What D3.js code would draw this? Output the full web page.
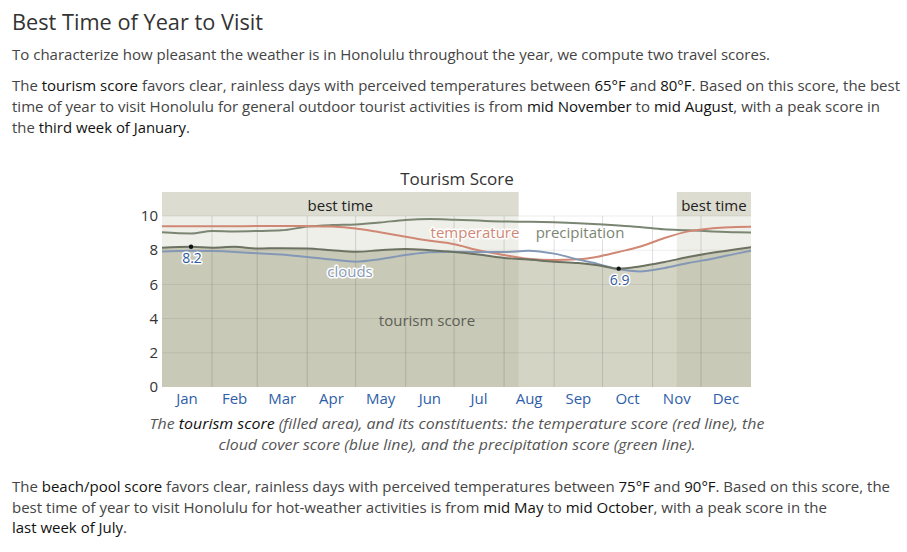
<!DOCTYPE html>
<html><head><meta charset="utf-8">
<script src="https://cdn.jsdelivr.net/npm/d3@7"></script>
<style>
body{margin:0;background:#fff;}
svg text{font-family:"Open Sans",sans-serif;}
</style></head>
<body><svg id="c" width="907" height="552"></svg>
<script>
// ---------- data ----------
const months = ["Jan","Feb","Mar","Apr","May","Jun","Jul","Aug","Sep","Oct","Nov","Dec"];
const monthStarts = [0,31,59,90,120,151,181,212,243,273,304,334,365];
const days =        [0,   18,  31,  45,  59,  74,  90,  105, 120, 135, 151, 166, 181, 196, 212, 227, 243, 258, 270, 283, 296, 311, 326, 341, 356, 365];
const tourism =     [8.15,8.2, 8.15,8.2, 8.1, 8.12,8.1, 8.0, 7.91,8.0, 8.07,8.0, 7.9, 7.75,7.55,7.45,7.33,7.25,7.12,6.92,7.05,7.3, 7.6, 7.85,8.05,8.17];
const temperature = [9.4, 9.4, 9.4, 9.4, 9.41,9.42,9.41,9.38,9.27,9.05,8.79,8.55,8.35,8.0, 7.72,7.5, 7.43,7.47,7.62,7.9, 8.2, 8.7, 9.1, 9.28,9.36,9.37];
const clouds =      [7.92,7.97,7.95,7.9, 7.82,7.75,7.6, 7.45,7.33,7.47,7.72,7.88,7.91,7.9, 7.89,7.97,7.8, 7.45,7.2, 6.88,6.76,6.95,7.25,7.5, 7.8, 7.97];
const precipitation=[9.05,8.98,9.12,9.1, 9.12,9.16,9.38,9.47,9.51,9.62,9.77,9.82,9.78,9.73,9.68,9.66,9.63,9.58,9.52,9.45,9.36,9.22,9.17,9.1, 9.05,9.04];
const bestTime = [[0,221],[319,365]];
const yTicks = [0,2,4,6,8,10];
const peak = {day:18, value:8.2, label:"8.2"};
const low = {day:283, value:6.92, label:"6.9"};

// ---------- layout ----------
const svg = d3.select("#c");
const x = d3.scaleLinear().domain([0,365]).range([162,751]);
const y = d3.scaleLinear().domain([0,10]).range([387,216]);
const yTop = 192;

// page text
function line(t, xx, yy, parts, opts={}) {
  const el = svg.append("text").attr("x", xx).attr("y", yy)
    .attr("font-size", opts.size||15).attr("fill", "#444");
  if (opts.anchor) el.attr("text-anchor", opts.anchor);
  if (opts.italic) el.attr("font-style","italic");
  if (opts.len) el.attr("textLength", opts.len).attr("lengthAdjust","spacingAndGlyphs");
  parts.forEach(p => {
    if (typeof p === "string") el.append("tspan").text(p);
    else el.append("tspan").attr("fill", p.c||"#111").text(p.t);
  });
  return el;
}
line(0, 12, 30, ["Best Time of Year to Visit"], {size:21, len:251}).attr("fill","#333");
line(0, 12, 60, ["To characterize how pleasant the weather is in Honolulu throughout the year, we compute two travel scores."], {len:758});
line(0, 12, 91, ["The ", {t:"tourism score"}, " favors clear, rainless days with perceived temperatures between ", {t:"65°F"}, " and ", {t:"80°F"}, ". Based on this score, the best"], {len:888});
line(0, 12, 112, ["time of year to visit Honolulu for general outdoor tourist activities is from ", {t:"mid November"}, " to ", {t:"mid August"}, ", with a peak score in"], {len:868});
line(0, 12, 133, ["the ", {t:"third week of January"}, "."], {len:178});
line(0, 12, 492, ["The ", {t:"beach/pool score"}, " favors clear, rainless days with perceived temperatures between ", {t:"75°F"}, " and ", {t:"90°F"}, ". Based on this score, the"], {len:878});
line(0, 12, 513, ["best time of year to visit Honolulu for hot-weather activities is from ", {t:"mid May"}, " to ", {t:"mid October"}, ", with a peak score in the"], {len:815});
line(0, 12, 533, [{t:"last week of July"}, "."], {len:115});

// chart title
svg.append("text").attr("x",457).attr("y",185).attr("text-anchor","middle")
  .attr("font-size",17).attr("fill","#333").text("Tourism Score");

// best time backgrounds
bestTime.forEach(b => {
  svg.append("rect").attr("x", x(b[0])).attr("y", yTop).attr("width", x(b[1])-x(b[0]))
    .attr("height", y(10)-yTop).attr("fill","#dcdcd0");
  svg.append("rect").attr("x", x(b[0])).attr("y", y(10)).attr("width", x(b[1])-x(b[0]))
    .attr("height", y(0)-y(10)).attr("fill","#efefe9");
});

const pts = days.map((d,i)=>({d, t:tourism[i], te:temperature[i], c:clouds[i], p:precipitation[i]}));
const curve = d3.curveMonotoneX;

// area fill (non-best and best clip)
const area = d3.area().x(d=>x(d.d)).y0(y(0)).y1(d=>y(d.t)).curve(curve);
svg.append("path").datum(pts).attr("d", area).attr("fill","#d4d4c5");
const defs = svg.append("defs");
const cp = defs.append("clipPath").attr("id","bestclip");
bestTime.forEach(b => cp.append("rect").attr("x",x(b[0])).attr("y",yTop).attr("width",x(b[1])-x(b[0])).attr("height",y(0)-yTop));
svg.append("path").datum(pts).attr("d", area).attr("fill","#c9c9b8").attr("clip-path","url(#bestclip)");

// grid
const g = svg.append("g");
g.selectAll(".hg").data(yTicks.filter(v=>v>0)).join("line")
  .attr("x1",x(0)).attr("x2",x(365)).attr("y1",d=>y(d)).attr("y2",d=>y(d))
  .attr("stroke","rgba(0,0,0,0.07)");
g.selectAll(".vg").data(monthStarts.slice(1,12)).join("line")
  .attr("x1",d=>x(d)).attr("x2",d=>x(d)).attr("y1",y(10)).attr("y2",y(0))
  .attr("stroke","rgba(0,0,0,0.13)");

// lines
const mk = k => d3.line().x(d=>x(d.d)).y(d=>y(d[k])).curve(curve);
svg.append("path").datum(pts).attr("d", mk("p")).attr("fill","none").attr("stroke","#7b8672").attr("stroke-width",2);
svg.append("path").datum(pts).attr("d", mk("te")).attr("fill","none").attr("stroke","#d08875").attr("stroke-width",2);
svg.append("path").datum(pts).attr("d", mk("c")).attr("fill","none").attr("stroke","#8498b6").attr("stroke-width",2);
svg.append("path").datum(pts).attr("d", mk("t")).attr("fill","none").attr("stroke","#6c7262").attr("stroke-width",2);

// labels with halo
function halo(t, xx, yy, col, size=15) {
  svg.append("text").attr("x",xx).attr("y",yy).attr("text-anchor","middle").attr("font-size",size)
    .attr("fill",col).attr("stroke","#fff").attr("stroke-width",3).attr("stroke-linejoin","round")
    .attr("paint-order","stroke").text(t);
}
halo("clouds", 350, 277, "#8a9bb8");
halo("temperature", 475, 238, "#d08875");
halo("precipitation", 580, 238, "#7b8672");
svg.append("text").attr("x",427).attr("y",326).attr("text-anchor","middle").attr("font-size",15)
  .attr("fill","#5c5f55").text("tourism score");

// best time labels
bestTime.forEach(b => {
  svg.append("text").attr("x",(x(b[0])+x(b[1]))/2).attr("y",211).attr("text-anchor","middle")
    .attr("font-size",15).attr("fill","#222").text("best time");
});

// markers
[peak, low].forEach(m => {
  svg.append("circle").attr("cx",x(m.day)).attr("cy",y(m.value)).attr("r",2.2).attr("fill","#111");
  halo(m.label, x(m.day)+1, y(m.value)+16, "#2f5aa0", 14);
});

// y axis labels
svg.selectAll(".yl").data(yTicks).join("text")
  .attr("x",158).attr("y",d=>y(d)).attr("dy","0.35em").attr("text-anchor","end")
  .attr("font-size",15).attr("fill","#333").text(d=>d);

// month labels
svg.selectAll(".ml").data(months).join("text")
  .attr("x",(d,i)=>x((monthStarts[i]+monthStarts[i+1])/2)).attr("y",404)
  .attr("text-anchor","middle").attr("font-size",15).attr("fill","#2e5ea8").text(d=>d);

// caption
line(0, 457, 429, ["The ", {t:"tourism score", c:"#111"}, " (filled area), and its constituents: the temperature score (red line), the"], {italic:true, anchor:"middle", len:615}).attr("fill","#555");
line(0, 457, 450, ["cloud cover score (blue line), and the precipitation score (green line)."], {italic:true, anchor:"middle", len:477}).attr("fill","#555");
</script></body></html>
